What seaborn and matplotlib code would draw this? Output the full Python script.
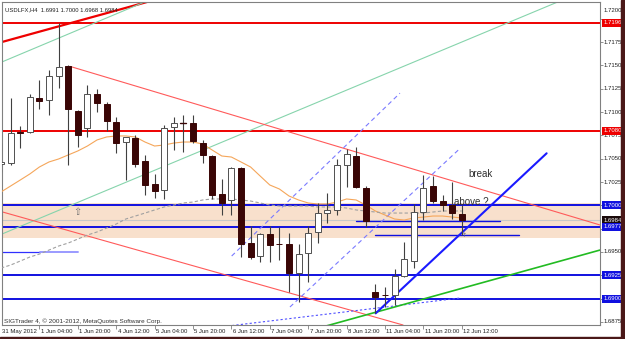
import matplotlib
matplotlib.use("Agg")
import matplotlib.pyplot as plt
from matplotlib.patches import Rectangle
import seaborn as sns
import pandas as pd

# ---------------- data ----------------
time_labels = ["31 May 2012", "1 Jun 04:00", "1 Jun 20:00", "4 Jun 12:00", "5 Jun 04:00",
               "5 Jun 20:00", "6 Jun 12:00", "7 Jun 04:00", "7 Jun 20:00", "8 Jun 12:00",
               "11 Jun 04:00", "11 Jun 20:00", "12 Jun 12:00"]
time_label_bars = [0, 4, 8, 12, 16, 20, 24, 28, 32, 36, 40, 44, 48]

opens = [1.7044, 1.70457, 1.70790, 1.70783, 1.71155, 1.71130, 1.71387, 1.71498, 1.71015, 1.70826,
         1.71194, 1.71084, 1.70897, 1.70682, 1.70719, 1.70479, 1.70229, 1.70164, 1.70837, 1.70880,
         1.70886, 1.70665, 1.70529, 1.70118, 1.70057, 1.70397, 1.69599, 1.69453, 1.69692, 1.69585,
         1.69585, 1.69270, 1.69485, 1.69717, 1.69914, 1.69950, 1.70432, 1.70529, 1.70182, 1.69073,
         1.69038, 1.69038, 1.69241, 1.69406, 1.69931, 1.70207, 1.70049, 1.70003, 1.6991]
highs = [1.7067, 1.71148, 1.70851, 1.71191, 1.71344, 1.71452, 1.71959, 1.71500, 1.71020, 1.71291,
         1.71245, 1.71105, 1.70944, 1.70736, 1.70754, 1.70540, 1.70336, 1.70862, 1.70951, 1.70969,
         1.70969, 1.70701, 1.70535, 1.70282, 1.70414, 1.70414, 1.69778, 1.69700, 1.69778, 1.69770,
         1.69700, 1.69585, 1.69778, 1.70021, 1.70129, 1.70494, 1.70601, 1.70629, 1.70207, 1.69156,
         1.69120, 1.69313, 1.69609, 1.70014, 1.70325, 1.70314, 1.70111, 1.70253, 1.7000]
lows = [1.7036, 1.70432, 1.70615, 1.70773, 1.71030, 1.70969, 1.71255, 1.70432, 1.70629, 1.70736,
        1.71004, 1.70800, 1.70564, 1.70271, 1.70414, 1.70111, 1.70075, 1.70064, 1.70593, 1.70575,
        1.70665, 1.70454, 1.70064, 1.69896, 1.69896, 1.69448, 1.69421, 1.69395, 1.69395, 1.69410,
        1.69075, 1.68966, 1.69180, 1.69599, 1.69807, 1.69896, 1.70200, 1.70186, 1.69770, 1.68841,
        1.68912, 1.68930, 1.69231, 1.69324, 1.69842, 1.70021, 1.69942, 1.69850, 1.6968]
closes = [1.7046, 1.70779, 1.70775, 1.71159, 1.71122, 1.71387, 1.71481, 1.71030, 1.70754, 1.71191,
          1.71101, 1.70908, 1.70665, 1.70730, 1.70440, 1.70218, 1.70157, 1.70826, 1.70880, 1.70883,
          1.70690, 1.70540, 1.70111, 1.70028, 1.70397, 1.69585, 1.69445, 1.69689, 1.69574, 1.69580,
          1.69270, 1.69474, 1.69706, 1.69921, 1.69950, 1.70432, 1.70550, 1.70200, 1.69835, 1.69019,
          1.69034, 1.69241, 1.69421, 1.69931, 1.70182, 1.70049, 1.70003, 1.69914, 1.6984]

ma_fast = [1.70143, 1.70207, 1.70271, 1.70336, 1.70411, 1.70465, 1.70497, 1.70540, 1.70583, 1.70636,
           1.70701, 1.70733, 1.70744, 1.70744, 1.70733, 1.70679, 1.70636, 1.70647, 1.70668, 1.70679,
           1.70679, 1.70658, 1.70593, 1.70529, 1.70518, 1.70465, 1.70411, 1.70314, 1.70218, 1.70175,
           1.70100, 1.70057, 1.70025, 1.70014, 1.70014, 1.70035, 1.70068, 1.70057, 1.70003, 1.69939,
           1.69896, 1.69853, 1.69842, 1.69864, 1.69874, 1.69885, 1.69885, 1.69874, 1.69864]
ma_slow = [1.69327, 1.69359, 1.69402, 1.69445, 1.69477, 1.69520, 1.69563, 1.69595, 1.69638, 1.69681,
           1.69714, 1.69756, 1.69799, 1.69853, 1.69885, 1.69917, 1.69950, 1.69982, 1.70003, 1.70025,
           1.70035, 1.70057, 1.70068, 1.70068, 1.70068, 1.70057, 1.70046, 1.70025, 1.70003, 1.69992,
           1.69992, 1.69992, 1.69992, 1.69982, 1.69982, 1.69982, 1.69971, 1.69950, 1.69939, 1.69928,
           1.69917, 1.69917, 1.69917, 1.69917, 1.69917, 1.69928, 1.69939, 1.69939, 1.69939]

red_levels = [1.7196, 1.7080]
blue_levels = [1.7000, 1.6977, 1.6925, 1.6900]
bid_price = 1.6984
zone = (1.69646, 1.70021)

price_ticks = [1.7200, 1.7175, 1.7150, 1.7125, 1.7100, 1.7075, 1.7050, 1.7025, 1.7000,
               1.6975, 1.6950, 1.6925, 1.6900, 1.6875]
plain_tick_labels = ["1.7175", "1.7150", "1.7125", "1.7100", "1.7075", "1.7050", "1.7025",
                     "1.6950", "1.6875"]

title = "USDLFX,H4  1.6991 1.7000 1.6968 1.6984"
copyright_text = "SIGTrader 4, \u00a9 2001-2012, MetaQuotes Software Corp."

# ---------------- figure ----------------
sns.set_style("white")
plt.rcParams["font.family"] = ["Liberation Sans", "DejaVu Sans"]

W, H = 625, 339
fig = plt.figure(figsize=(W / 100, H / 100), dpi=100)
ax = fig.add_axes([2 / W, 14 / H, 598 / W, 323 / H])
ax.set_xlim(0.104, 62.4)
ax.set_ylim(1.68716, 1.72181)
for s in ax.spines.values():
    s.set_color("#808080")
    s.set_linewidth(0.8)

n = len(opens)
idx = list(range(n))

# zone rectangle
ax.axhspan(zone[0], zone[1], color="#f8e0cc", zorder=0, lw=0)
ax.axhline(bid_price, color="#c8c8c8", lw=0.8, zorder=1)

# horizontal levels
for lv in red_levels:
    ax.axhline(lv, color="#ee0000", lw=1.4, zorder=2)
for lv in blue_levels:
    ax.axhline(lv, color="#1010e0", lw=1.4, zorder=2)

# short level segments
ax.plot([0.104, 4.06], [1.6950, 1.6950], color="#3030ff", lw=0.9, zorder=2)
ax.plot([4.06, 8.0], [1.6950, 1.6950], color="#9a9aff", lw=1.4, zorder=2)
ax.plot([37.0, 52.0], [1.69835, 1.69835], color="#1010e0", lw=1.0, zorder=2)
ax.plot([39.0, 54.0], [1.69683, 1.69683], color="#1010e0", lw=1.0, zorder=2)

# trend lines
ax.axline((0.104, 1.71752), (15.21, 1.72181), color="#ee0000", lw=1.6, zorder=2)
ax.axline((0.104, 1.71538), (10.31, 1.71980), color="#86d4ac", lw=0.8, zorder=2)
ax.axline((0.104, 1.69692), (57.5, 1.72160), color="#86d4ac", lw=0.8, zorder=2)
ax.plot([7.2, 62.4], [1.71490, 1.69789], color="#ff5a5a", lw=0.8, zorder=2)
ax.axline((0.07, 1.69931), (42.26, 1.68705), color="#ff5a5a", lw=0.8, zorder=2)
ax.plot([24.03, 41.56], [1.69456, 1.71203], color="#7a7aff", lw=0.8, ls=(0, (4, 3)), zorder=2)
ax.plot([30.1, 47.64], [1.68909, 1.70593], color="#7a7aff", lw=0.8, ls=(0, (4, 3)), zorder=2)
ax.plot([24.06, 47.8], [1.68710, 1.69005], color="#5050ff", lw=0.8, ls=(0, (2, 2)), zorder=2)
ax.plot([39.03, 56.84], [1.68841, 1.70558], color="#1a1aff", lw=1.5, zorder=4)
ax.plot([33.57, 62.4], [1.68697, 1.69520], color="#22bb22", lw=1.2, zorder=2)

# moving averages via seaborn
ma_df = pd.DataFrame({"bar": idx, "fast": ma_fast, "slow": ma_slow})
sns.lineplot(data=ma_df, x="bar", y="fast", ax=ax, color="#f5a65a", lw=0.8, zorder=3)
sns.lineplot(data=ma_df, x="bar", y="slow", ax=ax, color="#a0a0a0", lw=0.8,
             ls=(0, (3, 2)), zorder=3)
ax.set_xlabel("")
ax.set_ylabel("")

# candles
bw = 0.62
for i in idx:
    o, h, l, c = opens[i], highs[i], lows[i], closes[i]
    ax.vlines(i, l, h, color="#404040", lw=0.8, zorder=5)
    lo, hi = min(o, c), max(o, c)
    if hi - lo < 0.00004:
        ax.plot([i - bw / 2, i + bw / 2], [o, o], color="#3a0606", lw=1.0, zorder=6)
        continue
    if c >= o:
        ax.add_patch(Rectangle((i - bw / 2, lo), bw, hi - lo, facecolor="white",
                               edgecolor="#505050", lw=0.7, zorder=6))
    else:
        ax.add_patch(Rectangle((i - bw / 2, lo), bw, hi - lo, facecolor="#3a0606",
                               edgecolor="#3a0606", lw=0.7, zorder=6))

# annotations
ax.text(50.0, 1.70336, "break", fontsize=7, color="#303030", ha="center", va="center", zorder=7)
ax.text(49.0, 1.70039, "above ?", fontsize=7, color="#303030", ha="center", va="center", zorder=7)
ax.text(8.0, 1.69925, "\u21e7", fontsize=7, color="#707070", ha="center", va="center",
        family=["DejaVu Sans"], zorder=7)
ax.text(48.3, 1.69671, "\u2191", fontsize=4.5, color="#707070", ha="center", va="center",
        family=["DejaVu Sans"], zorder=7)

ax.text(0.005, 0.985, title, transform=ax.transAxes, fontsize=4.2, color="#202020",
        ha="left", va="top")
ax.text(0.003, 0.003, copyright_text, transform=ax.transAxes, fontsize=4.6, color="#303030",
        ha="left", va="bottom")

# y ticks (right side)
ax.set_yticks(price_ticks)
ax.set_yticklabels([])
ax.tick_params(axis="y", left=False, right=True, length=2.5, color="#808080", width=0.6,
               labelleft=False, labelright=False)
ax.set_xticks(time_label_bars[1:])
ax.set_xticklabels([])
ax.tick_params(axis="x", bottom=True, length=3, color="#808080", width=0.6, labelbottom=False)

ytr = ax.get_yaxis_transform()
for lab in plain_tick_labels:
    ax.text(1.006, float(lab), lab, transform=ytr, fontsize=4.3, color="#202020",
            ha="left", va="center", clip_on=False)
ax.text(1.006, 1.72088, "1.7200", transform=ytr, fontsize=4.3, color="#202020",
        ha="left", va="center", clip_on=False)

boxes = [(1.7196, "1.7196", "#ee0000"), (1.7080, "1.7080", "#ee0000"),
         (1.7000, "1.7000", "#1010e0"), (1.6984, "1.6984", "#1a0a0a"),
         (1.6977, "1.6977", "#1010e0"), (1.6925, "1.6925", "#1010e0"),
         (1.6900, "1.6900", "#1010e0")]
for val, lab, col in boxes:
    ax.text(1.006, val, lab, transform=ytr, fontsize=4.3, color="white", ha="left",
            va="center", clip_on=False,
            bbox=dict(boxstyle="square,pad=0.25", fc=col, ec="none"))

# time labels
xtr = ax.get_xaxis_transform()
for b, lab in zip(time_label_bars, time_labels):
    ax.text(b + 0.15, -0.012, lab, transform=xtr, fontsize=4.3, color="#202020",
            ha="left", va="top", clip_on=False)

# window frame (right and bottom edges)
fig.patches.append(Rectangle((621 / W, 0), 4 / W, 1, transform=fig.transFigure,
                             color="#4a1818", zorder=0))
fig.patches.append(Rectangle((0, 0), 1, 2 / H, transform=fig.transFigure,
                             color="#4a1818", zorder=0))

fig.savefig("out.png", dpi=100)
